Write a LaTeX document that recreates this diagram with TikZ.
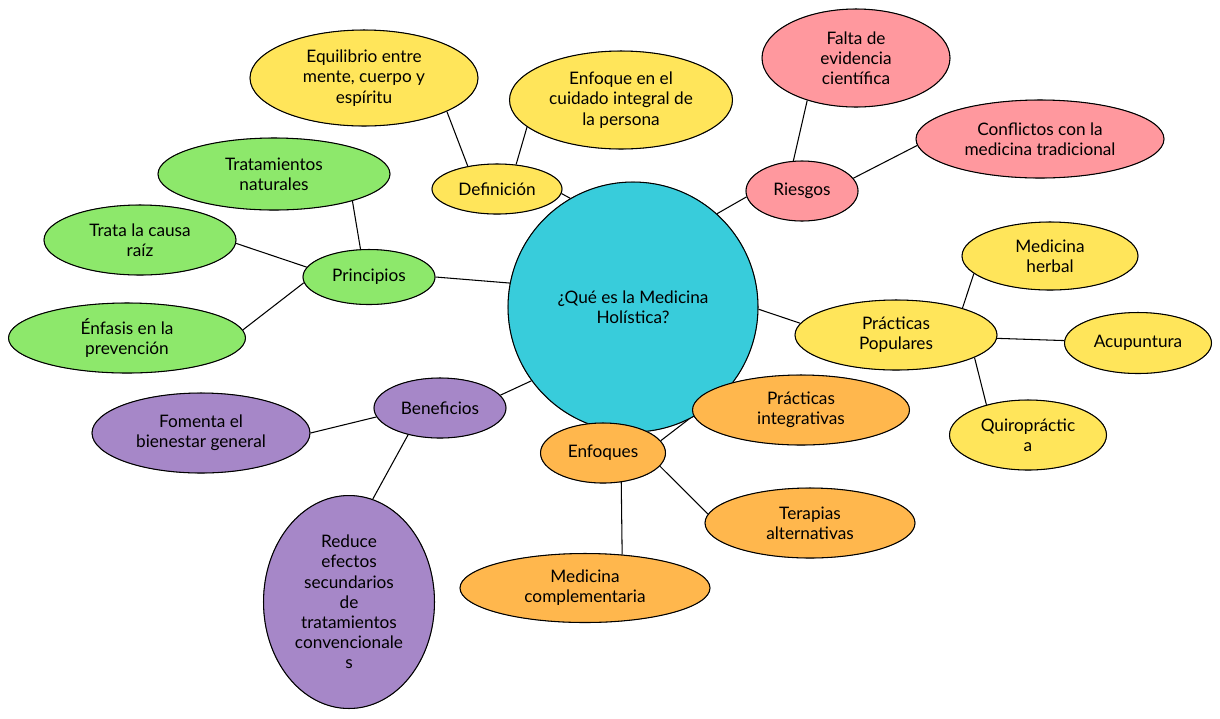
\documentclass[tikz,border=0pt]{standalone}
\usepackage{fontspec}
\setmainfont{Lato}
\usepackage{tikz}
\usetikzlibrary{shapes.geometric}
\usetikzlibrary{backgrounds}
\usetikzlibrary{positioning}

\definecolor{topiccyan}{HTML}{38CCDB}
\definecolor{ideayellow}{HTML}{FFE55A}
\definecolor{riskpink}{HTML}{FF989E}
\definecolor{ruleorange}{HTML}{FFB74D}
\definecolor{goodpurple}{HTML}{A687C8}
\definecolor{basegreen}{HTML}{8DE86B}

\begin{document}
\begin{tikzpicture}
    [
    x=0.02cm,y=-0.02cm,
    bubble/.style={ellipse,draw=black,line width=0.6pt,inner sep=0pt,align=center,
      font=\fontsize{9.8}{11.5}\selectfont,
      preaction={draw=black!70,line width=0.35pt,xshift=0.7pt,yshift=-0.6pt}},
    yellowbubble/.style={bubble,fill=ideayellow},
    pinkbubble/.style={bubble,fill=riskpink},
    orangebubble/.style={bubble,fill=ruleorange},
    purplebubble/.style={bubble,fill=goodpurple},
    greenbubble/.style={bubble,fill=basegreen},
    link/.style={draw=black,line width=0.6pt},
    ]
    \useasboundingbox (0,0) rectangle (1220,718);

    \node (what) at (633,307) [bubble,circle,fill=topiccyan,minimum size=5cm] {¿Qué es la Medicina\\Holística?};

    \node (def) at (497,189) [yellowbubble,minimum width=2.6cm,minimum height=1.0cm] {Definición};
    \node (def1) at (364,78) [yellowbubble,minimum width=4.56cm,minimum height=1.92cm] {Equilibrio entre\\mente, cuerpo y\\espíritu};
    \node (def2) at (621,100) [yellowbubble,minimum width=4.46cm,minimum height=1.96cm] {Enfoque en el\\cuidado integral de\\la persona};

    \node (risk) at (802,191) [pinkbubble,minimum width=2.24cm,minimum height=1.2cm] {Riesgos};
    \node (risk1) at (856,58) [pinkbubble,minimum width=3.76cm,minimum height=1.96cm] {Falta de\\evidencia\\científica};
    \node (risk2) at (1040,139) [pinkbubble,minimum width=4.96cm,minimum height=1.56cm] {Conflictos con la\\medicina tradicional};

    \node (pop) at (896,335) [yellowbubble,minimum width=4.04cm,minimum height=1.4cm] {Prácticas\\Populares};
    \node (pop1) at (1050,256) [yellowbubble,minimum width=3.52cm,minimum height=1.36cm] {Medicina\\herbal};
    \node (pop2) at (1138,343) [yellowbubble,minimum width=2.94cm,minimum height=1.22cm] {Acupuntura};
    \node (pop3) at (1028,435) [yellowbubble,minimum width=3.14cm,minimum height=1.4cm] {Quiropráctic\\a};

    \node (appr) at (603,453) [orangebubble,minimum width=2.5cm,minimum height=1.2cm] {Enfoques};
    \node (appr1) at (801,410) [orangebubble,minimum width=4.34cm,minimum height=1.4cm] {Prácticas\\integrativas};
    \node (appr2) at (810,523) [orangebubble,minimum width=4.2cm,minimum height=1.4cm] {Terapias\\alternativas};
    \node (appr3) at (585,588) [orangebubble,minimum width=5.0cm,minimum height=1.38cm] {Medicina\\complementaria};

    \node (gain) at (440,408) [purplebubble,minimum width=2.64cm,minimum height=1.2cm] {Beneficios};
    \node (gain1) at (201,433) [purplebubble,minimum width=4.36cm,minimum height=1.6cm] {Fomenta el\\bienestar general};
    \node (gain2) at (349,602) [purplebubble,minimum width=3.42cm,minimum height=4.26cm] {Reduce\\efectos\\secundarios\\de\\tratamientos\\convencionale\\s};

    \node (base) at (369,277) [greenbubble,minimum width=2.64cm,minimum height=1.1cm] {Principios};
    \node (base1) at (274,174) [greenbubble,minimum width=4.64cm,minimum height=1.44cm] {Tratamientos\\naturales};
    \node (base2) at (140,240) [greenbubble,minimum width=3.84cm,minimum height=1.4cm] {Trata la causa\\raíz};
    \node (base3) at (127,338) [greenbubble,minimum width=4.74cm,minimum height=1.4cm] {Énfasis en la\\prevención};

    \begin{scope}[on background layer]
    \draw [link] (what.120) to (def.-4);
    \draw [link] (what.48) to (risk.186);
    \draw [link] (what.-1) to (pop.173);
    \draw [link] (what) to (appr);
    \draw [link] (what.216) to (gain.12);
    \draw [link] (what.169) to (base.0);

    \draw [link] (def.142) to (def1.-22);
    \draw [link] (def.52) to (def2.196);
    \draw [link] (risk.106) to (risk1.221);
    \draw [link] (risk.14) to (risk2.183);
    \draw [link] (pop.22) to (pop1.193);
    \draw [link] (pop) to (pop2);
    \draw [link] (pop.-16) to (pop3.144);
    \draw [link] (appr.12) to (appr1.183);
    \draw [link] (appr.-13) to (appr2.175);
    \draw [link] (appr.-58) to (appr3.42);
    \draw [link] (gain.188) to (gain1.0);
    \draw [link] (gain.220) to (gain2.77);
    \draw [link] (base.107) to (base1.-19);
    \draw [link] (base.171) to (base2.-2);
    \draw [link] (base.185) to (base3.4);
    \end{scope}
  \end{tikzpicture}
\end{document}
